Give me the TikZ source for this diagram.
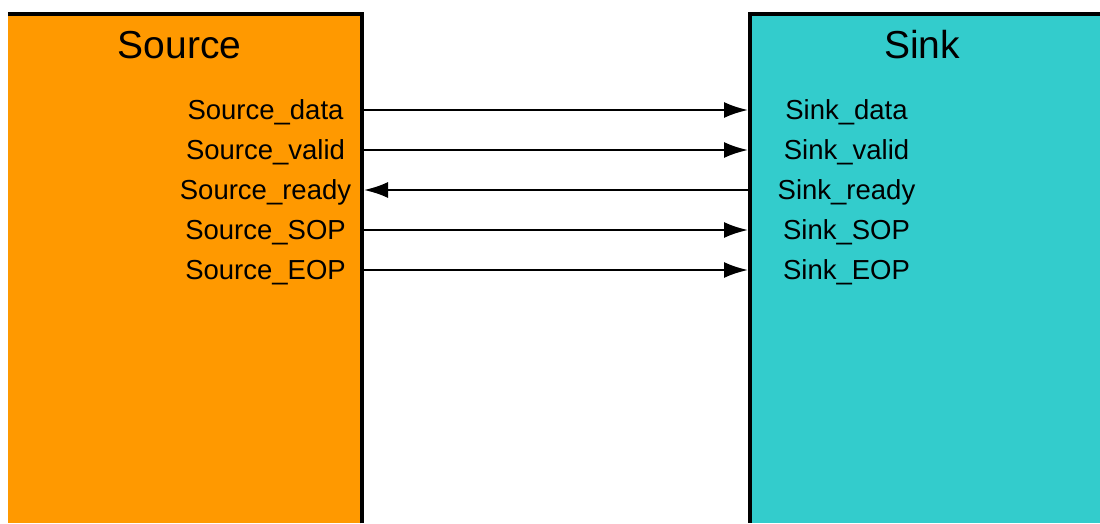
\documentclass[tikz,border=0pt]{standalone}
\usepackage{fontspec}
\setmainfont{Liberation Sans}
\usetikzlibrary{arrows.meta}
\definecolor{srcorange}{HTML}{FF9900}
\definecolor{sinkcyan}{HTML}{33CCCC}
\begin{document}
\begin{tikzpicture}[x=1pt,y=-1pt,
	edge/.style={line width=4pt},
	sig/.style={line width=2.2pt,-{Latex[length=24pt,width=16pt]}},
	lbl/.style={font=\fontsize{27.5}{30}\selectfont,anchor=base,inner sep=0pt},
	ttl/.style={font=\fontsize{39}{44}\selectfont,anchor=base,inner sep=0pt}]
	\useasboundingbox (0,0) rectangle (1100,523);
	\def\srcx{265.5}
	\def\snkx{846.5}
	\node[fill=srcorange,inner sep=0pt,minimum width=354pt,minimum height=509.5pt,anchor=north west] (source) at (8,13.5) {};
	\node[fill=sinkcyan,inner sep=0pt,minimum width=350pt,minimum height=509pt,anchor=north west] (sink) at (750,14) {};
	\draw[edge] (source.south east) -- (source.north east) -- (source.north west);
	\draw[edge] (sink.north east) -- (sink.north west) -- (sink.south west);
	\node[ttl] (srctitle) at (179.5,58) {Source};
	\node[ttl] (snktitle) at (922,58) {Sink};
	\foreach \nm [count=\i] in {data,valid,ready,SOP,EOP}{
		\node[lbl] (src\nm) at (\srcx,{70+40*\i+9.5}) {Source\_\nm};
		\node[lbl] (snk\nm) at (\snkx,{70+40*\i+9.5}) {Sink\_\nm};
		\coordinate (p\nm) at (364,{70+40*\i});
		\coordinate (q\nm) at (748,{70+40*\i});
	}
	\draw[sig] (pdata) -- (qdata);
	\draw[sig] (pvalid) -- (qvalid);
	\draw[sig] (qready) -- (pready);
	\draw[sig] (pSOP) -- (qSOP);
	\draw[sig] (pEOP) -- (qEOP);
\end{tikzpicture}
\end{document}
